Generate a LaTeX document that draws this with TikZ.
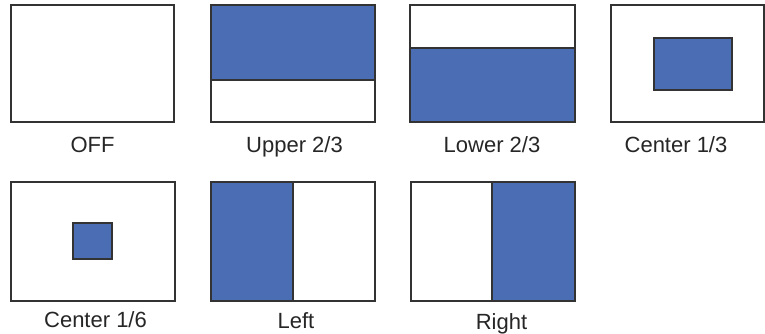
\documentclass[tikz,border=0pt]{standalone}
\usepackage{fontspec}
\setmainfont{Liberation Sans}
\definecolor{zoneblue}{HTML}{4A6DB4}
\definecolor{framegray}{HTML}{333333}
\begin{document}
\begin{tikzpicture}[x=1pt,y=-1pt,
  frm/.style={draw=framegray, line width=1.3pt},
  zone/.style={fill=zoneblue},
  lbl/.style={font=\fontsize{22}{24}\selectfont, anchor=base, text=black!85, inner sep=0pt}]
\useasboundingbox[fill=white] (0,0) rectangle (765,334);
% OFF
\draw[frm] (11,5) rectangle (174,122);
\node[lbl] (loff) at (92.5,152) {OFF};
% Upper 2/3
\fill[zone] (211,5) rectangle (375,80);
\draw[frm] (211,5) rectangle (375,122);
\draw[frm] (211,80) -- (375,80);
\node[lbl] (lup) at (294.5,152) {Upper 2/3};
% Lower 2/3
\fill[zone] (410,48) rectangle (575,122);
\draw[frm] (410,5) rectangle (575,122);
\draw[frm] (410,48) -- (575,48);
\node[lbl] (llow) at (492,152) {Lower 2/3};
% Center 1/3
\draw[frm] (611,5) rectangle (764,122);
\draw[frm, zone] (654,38) rectangle (732,90);
\node[lbl] (lc3) at (676,152) {Center 1/3};
% Center 1/6
\draw[frm] (11,182) rectangle (175,301);
\draw[frm, zone] (73,223) rectangle (112,259);
\node[lbl] (lc6) at (95.5,327) {Center 1/6};
% Left
\fill[zone] (211,182) rectangle (293,301);
\draw[frm] (211,182) rectangle (375,301);
\draw[frm] (293,182) -- (293,301);
\node[lbl] (lleft) at (296,328) {Left};
% Right
\fill[zone] (492,182) rectangle (575,301);
\draw[frm] (411,182) rectangle (575,301);
\draw[frm] (492,182) -- (492,301);
\node[lbl] (lright) at (501.5,329) {Right};
\end{tikzpicture}
\end{document}
